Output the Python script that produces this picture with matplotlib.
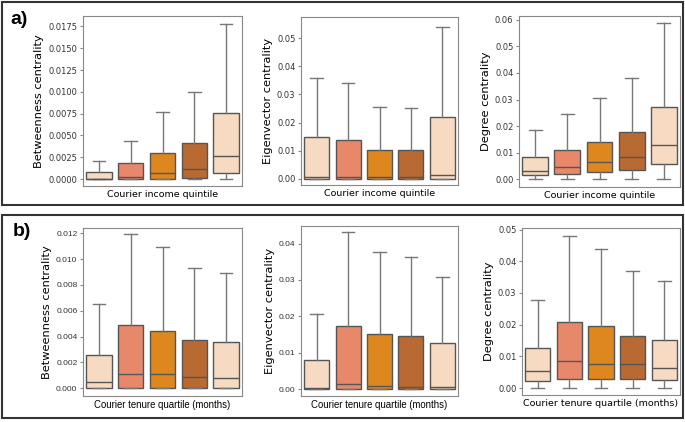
import matplotlib.pyplot as plt
from matplotlib.patches import Rectangle

# box colours per group (seaborn-ish orange palette)
colors = ['#f6dbc2', '#e8886b', '#df871f', '#b96a33', '#f6dbc2']

# (a) courier income quintile
a_btw_q1 = [0.0, 0.0, 0.0, 0.0001, 0.0007]
a_btw_med = [0.00002, 0.0002, 0.0007, 0.0011, 0.0026]
a_btw_q3 = [0.0008, 0.0018, 0.0030, 0.0041, 0.0076]
a_btw_hi = [0.0021, 0.0044, 0.0077, 0.0100, 0.0178]

a_eig_q1 = [0.0, 0.0, 0.0, 0.0, 0.0]
a_eig_med = [0.0008, 0.0008, 0.0005, 0.0008, 0.0015]
a_eig_q3 = [0.0148, 0.0138, 0.0104, 0.0102, 0.0218]
a_eig_hi = [0.0357, 0.0342, 0.0254, 0.0252, 0.0540]

a_deg_q1 = [0.0015, 0.0020, 0.0025, 0.0035, 0.0055]
a_deg_med = [0.0030, 0.0045, 0.0063, 0.0085, 0.0129]
a_deg_q3 = [0.0085, 0.0110, 0.0138, 0.0178, 0.0273]
a_deg_hi = [0.0185, 0.0247, 0.0307, 0.0380, 0.0590]

# (b) courier tenure quartile
b_btw_q1 = [0.0, 0.0, 0.00005, 0.0, 0.0]
b_btw_med = [0.0005, 0.0011, 0.0011, 0.0009, 0.0008]
b_btw_q3 = [0.0026, 0.0049, 0.0044, 0.0037, 0.0036]
b_btw_hi = [0.0065, 0.0119, 0.0109, 0.0093, 0.0089]

b_eig_q1 = [0.0, 0.0, 0.0, 0.0, 0.0]
b_eig_med = [0.0004, 0.0015, 0.0010, 0.0008, 0.0008]
b_eig_q3 = [0.0082, 0.0175, 0.0153, 0.0146, 0.0128]
b_eig_hi = [0.0207, 0.0432, 0.0377, 0.0362, 0.0307]

b_deg_q1 = [0.0022, 0.0028, 0.0030, 0.0027, 0.0025]
b_deg_med = [0.0053, 0.0084, 0.0076, 0.0076, 0.0062]
b_deg_q3 = [0.0126, 0.0209, 0.0195, 0.0163, 0.0151]
b_deg_hi = [0.0279, 0.0480, 0.0439, 0.0370, 0.0339]

W, H = 685, 422
fig = plt.figure(figsize=(W / 100, H / 100), dpi=100)


def px_axes(x0, y0, x1, y1):
    return fig.add_axes([x0 / W, 1 - y1 / H, (x1 - x0) / W, (y1 - y0) / H])


def draw(ax, q1, med, q3, hi, ylim, ticks, fmt, ylabel, xlabel, font='DejaVu Sans'):
    stats = []
    for i in range(len(med)):
        stats.append({'q1': q1[i], 'med': med[i], 'q3': q3[i],
                      'whislo': 0.0, 'whishi': hi[i], 'fliers': []})
    bp = ax.bxp(stats, positions=range(len(stats)), widths=0.8,
                patch_artist=True, showfliers=False,
                boxprops=dict(edgecolor='#555555', linewidth=1.0),
                medianprops=dict(color='#555555', linewidth=1.0),
                whiskerprops=dict(color='#777777', linewidth=1.0),
                capprops=dict(color='#777777', linewidth=1.0),
                capwidths=0.4)
    for patch, c in zip(bp['boxes'], colors):
        patch.set_facecolor(c)
    ax.set_xlim(-0.5, 4.5)
    ax.set_ylim(*ylim)
    ax.set_yticks(ticks)
    ax.set_yticklabels([fmt.format(t) for t in ticks], fontsize=6,
                       color='#333333', family=font)
    ax.set_xticks([])
    ax.tick_params(axis='y', length=2, color='#888888', pad=2)
    for s in ax.spines.values():
        s.set_color('#888888')
    ax.set_ylabel(ylabel, fontsize=8.2, labelpad=3)
    ax.set_xlabel(xlabel, fontsize=6.8 if font == 'DejaVu Sans' else 6.9,
                  labelpad=3, family=font)


xa = 'Courier income quintile'
xb = 'Courier tenure quartile (months)'

ax = px_axes(83, 16, 242, 186)
draw(ax, a_btw_q1, a_btw_med, a_btw_q3, a_btw_hi, (-0.0008, 0.0187),
     [0, 0.0025, 0.005, 0.0075, 0.01, 0.0125, 0.015, 0.0175], '{:.4f}',
     'Betweenness centrality', xa)
ax = px_axes(301, 17, 458, 185)
draw(ax, a_eig_q1, a_eig_med, a_eig_q3, a_eig_hi, (-0.0022, 0.0575),
     [0, 0.01, 0.02, 0.03, 0.04, 0.05], '{:.2f}', 'Eigenvector centrality', xa)
ax = px_axes(519, 16, 680, 187)
draw(ax, a_deg_q1, a_deg_med, a_deg_q3, a_deg_hi, (-0.003, 0.0615),
     [0, 0.01, 0.02, 0.03, 0.04, 0.05, 0.06], '{:.2f}', 'Degree centrality', xa)

ax = px_axes(83, 228, 242, 396)
draw(ax, b_btw_q1, b_btw_med, b_btw_q3, b_btw_hi, (-0.0006, 0.0124),
     [0, 0.002, 0.004, 0.006, 0.008, 0.01, 0.012], '{:.3f}',
     'Betweenness centrality', xb, font='Liberation Sans')
ax = px_axes(301, 226, 458, 396)
draw(ax, b_eig_q1, b_eig_med, b_eig_q3, b_eig_hi, (-0.0018, 0.0448),
     [0, 0.01, 0.02, 0.03, 0.04], '{:.2f}', 'Eigenvector centrality', xb,
     font='Liberation Sans')
ax = px_axes(522, 228, 680, 395)
draw(ax, b_deg_q1, b_deg_med, b_deg_q3, b_deg_hi, (-0.0022, 0.0505),
     [0, 0.01, 0.02, 0.03, 0.04, 0.05], '{:.2f}', 'Degree centrality', xb)

# outer frames around panels a) and b)
for y0, y1 in [(2, 205), (215, 418)]:
    fig.patches.append(Rectangle((2 / W, 1 - y1 / H), 681 / W, (y1 - y0) / H,
                                 transform=fig.transFigure, fill=False,
                                 edgecolor='#333333', linewidth=1.5))

fig.text(10 / W, 1 - 20 / H, 'a)', fontsize=14, fontweight='bold', va='center',
         family='Liberation Sans')
fig.text(13 / W, 1 - 232 / H, 'b)', fontsize=14, fontweight='bold', va='center',
         family='Liberation Sans')

fig.savefig('out.png', dpi=100)
